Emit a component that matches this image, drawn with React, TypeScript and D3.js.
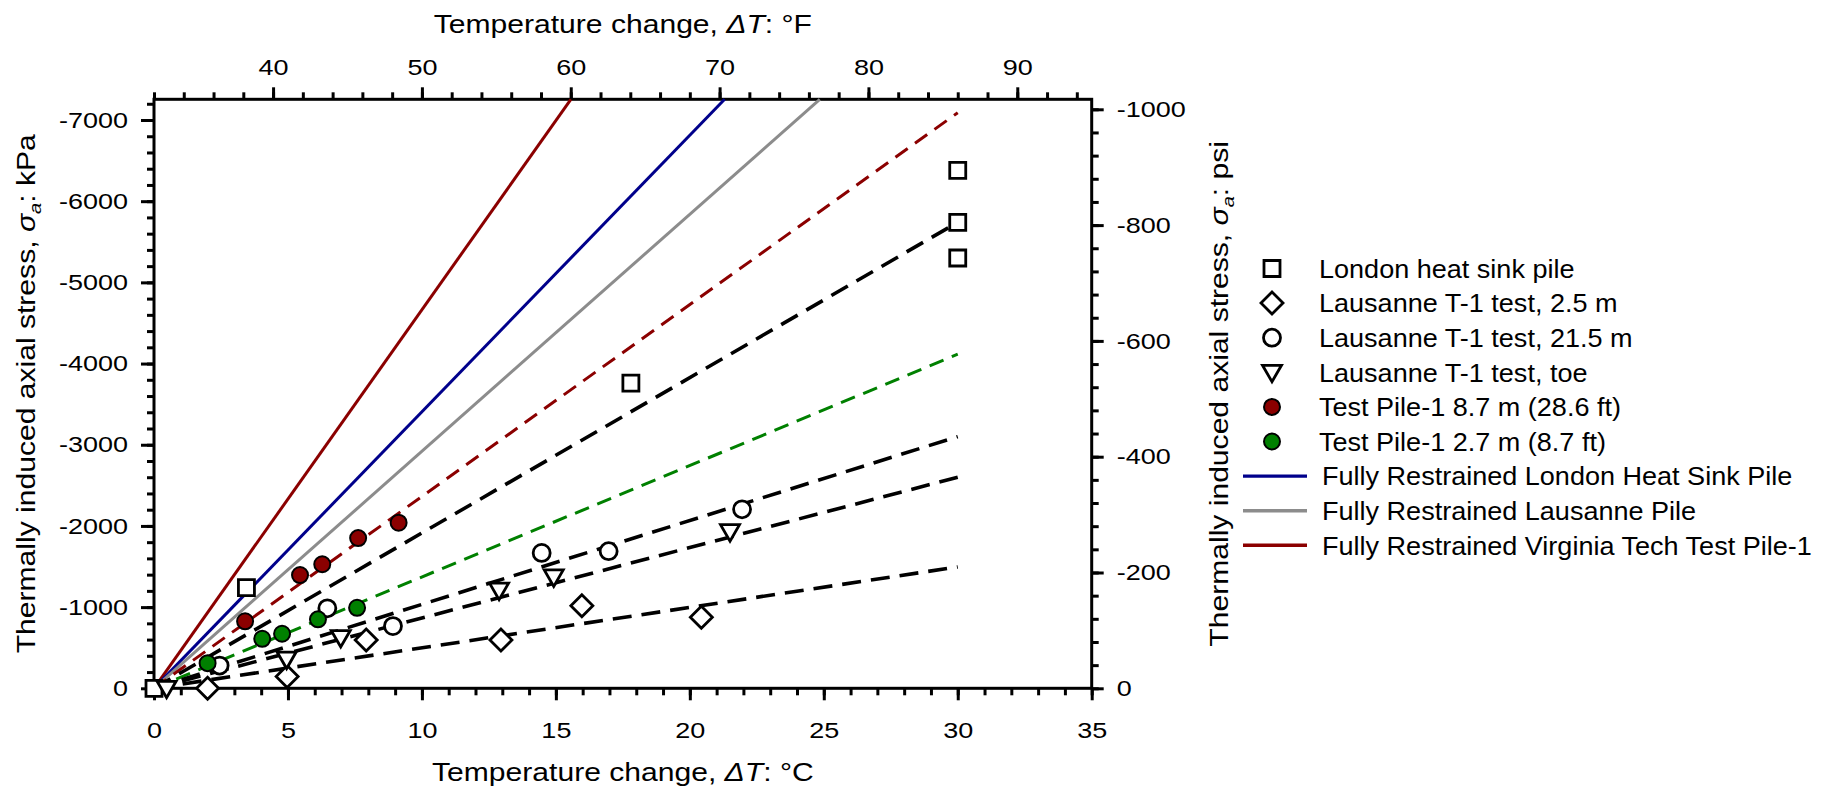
import React, { useEffect, useRef } from 'react';
import * as d3 from 'd3';

// readings: [ΔT in °C, σa in kPa]
const londonPile = [[0, 0], [3.45, -1240], [17.8, -3760], [30, -6380], [30, -5740], [30, -5300]];
const lausanne25 = [[2.0, 0], [4.97, -145], [7.92, -594], [12.95, -594], [15.97, -1016], [20.43, -875]];
const lausanne215 = [[2.45, -280], [6.47, -985], [8.92, -766], [14.47, -1668], [16.97, -1689], [21.95, -2205]];
const lausanneToe = [[0.47, 0], [4.95, -360], [6.97, -625], [12.88, -1209], [14.92, -1373], [21.5, -1930]];
const testPile87 = [[3.4, -825], [5.45, -1395], [6.28, -1528], [7.62, -1850], [9.13, -2040]];
const testPile27 = [[2.0, -310], [4.04, -610], [4.78, -672], [6.12, -849], [7.58, -992]];

// fitted trends (dashed)
const fitTestPile87 = [[0, 0], [30, -7090]];
const fitLondon = [[0, 0], [30, -5740]];
const fitTestPile27 = [[0, 0], [30, -4115]];
const fitLausanne215 = [[0, 0], [30, -3100]];
const fitLausanneToe = [[0, 0], [30, -2600]];
const fitLausanne25 = [[0, 0], [30, -1495]];

// fully restrained lines (solid), they run out at the top of the frame
const restrainedLondon = [[0, 0], [21.3, -7255]];
const restrainedLausanne = [[0, 0], [24.85, -7255]];
const restrainedVT = [[0, 0], [15.56, -7255]];

const tickC = [0, 5, 10, 15, 20, 25, 30, 35];
const tickF = [40, 50, 60, 70, 80, 90];
const tickKPa = [0, -1000, -2000, -3000, -4000, -5000, -6000, -7000];
const tickPsi = [0, -200, -400, -600, -800, -1000];

const legendLabels = [
  'London heat sink pile',
  'Lausanne T-1 test, 2.5 m',
  'Lausanne T-1 test, 21.5 m',
  'Lausanne T-1 test, toe',
  'Test Pile-1 8.7 m (28.6 ft)',
  'Test Pile-1 2.7 m (8.7 ft)',
  'Fully Restrained London Heat Sink Pile',
  'Fully Restrained Lausanne Pile',
  'Fully Restrained Virginia Tech Test Pile-1',
];

const FONT = 'Liberation Sans, Arial, Helvetica, sans-serif';
const RED = '#8b0000';
const BLUE = '#00008b';
const GREY = '#8c8c8c';
const GREEN = '#008000';

function markerPath(kind) {
  if (kind === 'square') return 'M-8,-8H8V8H-8Z';
  if (kind === 'diamond') return 'M0,-11L11,0L0,11L-11,0Z';
  if (kind === 'triangle') return 'M-9.5,-7H9.5L0,9.5Z';
  if (kind === 'dot') return d3.symbol(d3.symbolCircle, Math.PI * 8 * 8)();
  return d3.symbol(d3.symbolCircle, Math.PI * 8.5 * 8.5)();
}

function App() {
  const svgRef = useRef(null);

  useEffect(() => {
    document.body.style.margin = '0';
    const svg = d3.select(svgRef.current);
    svg.selectAll('*').remove();

    const L = 154, R = 1091.7, T = 99.3, B = 688.3;
    const x = d3.scaleLinear().domain([0, 35]).range([L, R]);
    const xF = d3.scaleLinear().domain([32, 95]).range([L, R]);
    const y = d3.scaleLinear().domain([0, -7255]).range([B, T]);
    const yPsi = d3.scaleLinear().domain([0, -1000]).range([B, 109.3]);

    const g = svg.append('g').style('font-family', FONT);

    // the source's lettering is wider than Arial, so text gets a small x-stretch
    const TICK_FS = 22.5, TICK_SX = 1.2;
    const styleAxis = sel => {
      sel.select('.domain').remove();
      sel.selectAll('line').attr('stroke', '#000').attr('stroke-width', 3);
      sel.selectAll('text')
        .attr('fill', '#000')
        .style('font-size', TICK_FS + 'px')
        .style('font-family', FONT)
        .each(function () {
          const t = d3.select(this);
          const x0 = +t.attr('x') || 0;
          t.attr('x', x0 / TICK_SX).attr('transform', `scale(${TICK_SX},1)`);
        });
    };
    const label = d => String(d);

    g.append('g').attr('transform', `translate(0,${B})`)
      .call(d3.axisBottom(x).tickValues(d3.range(0, 35.01, 1)).tickSize(7).tickFormat(() => ''))
      .call(styleAxis);
    g.append('g').attr('transform', `translate(0,${B})`)
      .call(d3.axisBottom(x).tickValues(tickC).tickSize(12).tickPadding(22).tickFormat(label))
      .call(styleAxis);

    g.append('g').attr('transform', `translate(0,${T})`)
      .call(d3.axisTop(xF).tickValues(d3.range(32, 95, 2)).tickSize(7).tickFormat(() => ''))
      .call(styleAxis);
    g.append('g').attr('transform', `translate(0,${T})`)
      .call(d3.axisTop(xF).tickValues(tickF).tickSize(12).tickPadding(12).tickFormat(label))
      .call(styleAxis);

    g.append('g').attr('transform', `translate(${L},0)`)
      .call(d3.axisLeft(y).tickValues(d3.range(0, -7255, -200)).tickSize(7).tickFormat(() => ''))
      .call(styleAxis);
    g.append('g').attr('transform', `translate(${L},0)`)
      .call(d3.axisLeft(y).tickValues(tickKPa).tickSize(13).tickPadding(13).tickFormat(label))
      .call(styleAxis);

    g.append('g').attr('transform', `translate(${R},0)`)
      .call(d3.axisRight(yPsi).tickValues(d3.range(0, -1001, -40)).tickSize(7).tickFormat(() => ''))
      .call(styleAxis);
    g.append('g').attr('transform', `translate(${R},0)`)
      .call(d3.axisRight(yPsi).tickValues(tickPsi).tickSize(12).tickPadding(13).tickFormat(label))
      .call(styleAxis);

    // frame
    g.append('rect')
      .attr('x', L).attr('y', T).attr('width', R - L).attr('height', B - T)
      .attr('fill', 'none').attr('stroke', '#000').attr('stroke-width', 3);

    const line = d3.line().x(d => x(d[0])).y(d => y(d[1]));

    const lines = [
      { d: restrainedVT, c: RED, w: 3, dash: null },
      { d: restrainedLondon, c: BLUE, w: 3, dash: null },
      { d: restrainedLausanne, c: GREY, w: 3, dash: null },
      { d: fitTestPile87, c: RED, w: 3, dash: '15 9' },
      { d: fitTestPile27, c: GREEN, w: 3, dash: '15 9' },
      { d: fitLondon, c: '#000', w: 3.6, dash: '19 10' },
      { d: fitLausanne215, c: '#000', w: 3.6, dash: '19 10' },
      { d: fitLausanneToe, c: '#000', w: 3.6, dash: '19 10' },
      { d: fitLausanne25, c: '#000', w: 3.6, dash: '19 10' },
    ];
    g.append('g').selectAll('path').data(lines).enter().append('path')
      .attr('d', d => line(d.d))
      .attr('fill', 'none')
      .attr('stroke', d => d.c)
      .attr('stroke-width', d => d.w)
      .attr('stroke-dasharray', d => d.dash);

    const series = [
      { d: londonPile, kind: 'square', fill: '#fff', sw: 2.8 },
      { d: lausanne25, kind: 'diamond', fill: '#fff', sw: 2.8 },
      { d: lausanne215, kind: 'circle', fill: '#fff', sw: 2.8 },
      { d: lausanneToe, kind: 'triangle', fill: '#fff', sw: 2.8 },
      { d: testPile87, kind: 'dot', fill: RED, sw: 2 },
      { d: testPile27, kind: 'dot', fill: GREEN, sw: 2 },
    ];
    series.forEach(s => {
      g.append('g').selectAll('path').data(s.d).enter().append('path')
        .attr('transform', d => `translate(${x(d[0])},${y(d[1])})`)
        .attr('d', markerPath(s.kind))
        .attr('fill', s.fill)
        .attr('stroke', '#000')
        .attr('stroke-width', s.sw);
    });

    // legend
    const leg = g.append('g');
    legendLabels.forEach((text, i) => {
      const cy = 268.5 + i * 34.6;
      if (i < series.length) {
        const s = series[i];
        leg.append('path')
          .attr('transform', `translate(1272,${cy})`)
          .attr('d', markerPath(s.kind))
          .attr('fill', s.fill).attr('stroke', '#000').attr('stroke-width', s.sw);
      } else {
        leg.append('line')
          .attr('x1', 1243).attr('x2', 1307).attr('y1', cy).attr('y2', cy)
          .attr('stroke', [BLUE, GREY, RED][i - series.length]).attr('stroke-width', 3.4);
      }
      leg.append('text')
        .attr('transform', `translate(${i < series.length ? 1319 : 1322},${cy}) scale(1.04,1)`)
        .attr('dy', '0.36em')
        .style('font-size', '26px').text(text);
    });

    // axis titles
    const TITLE_FS = 25.5, TITLE_SX = 1.18;
    const title = (sel, unit) => {
      sel.append('tspan').text('Temperature change, ');
      sel.append('tspan').style('font-style', 'italic').text('ΔT');
      sel.append('tspan').text(': ' + unit);
    };
    g.append('text').attr('transform', `translate(${(L + R) / 2},781) scale(${TITLE_SX},1)`)
      .attr('text-anchor', 'middle').style('font-size', TITLE_FS + 'px').call(s => title(s, '°C'));
    g.append('text').attr('transform', `translate(${(L + R) / 2},33) scale(${TITLE_SX},1)`)
      .attr('text-anchor', 'middle').style('font-size', TITLE_FS + 'px').call(s => title(s, '°F'));

    const stress = (sel, unit) => {
      sel.append('tspan').text('Thermally induced axial stress,  ');
      sel.append('tspan').style('font-style', 'italic').text('σ');
      sel.append('tspan').style('font-style', 'italic').style('font-size', '17px').attr('dy', 6).text('a');
      sel.append('tspan').attr('dy', -6).text(': ' + unit);
    };
    g.append('text').attr('transform', `translate(35,${(T + B) / 2}) rotate(-90) scale(${TITLE_SX},1)`)
      .attr('text-anchor', 'middle').style('font-size', TITLE_FS + 'px').call(s => stress(s, 'kPa'));
    g.append('text').attr('transform', `translate(1228,${(T + B) / 2}) rotate(-90) scale(${TITLE_SX},1)`)
      .attr('text-anchor', 'middle').style('font-size', TITLE_FS + 'px').call(s => stress(s, 'psi'));
  }, []);

  return <svg ref={svgRef} width={1833} height={791} style={{ display: 'block', background: '#fff' }} />;
}

export default App;
